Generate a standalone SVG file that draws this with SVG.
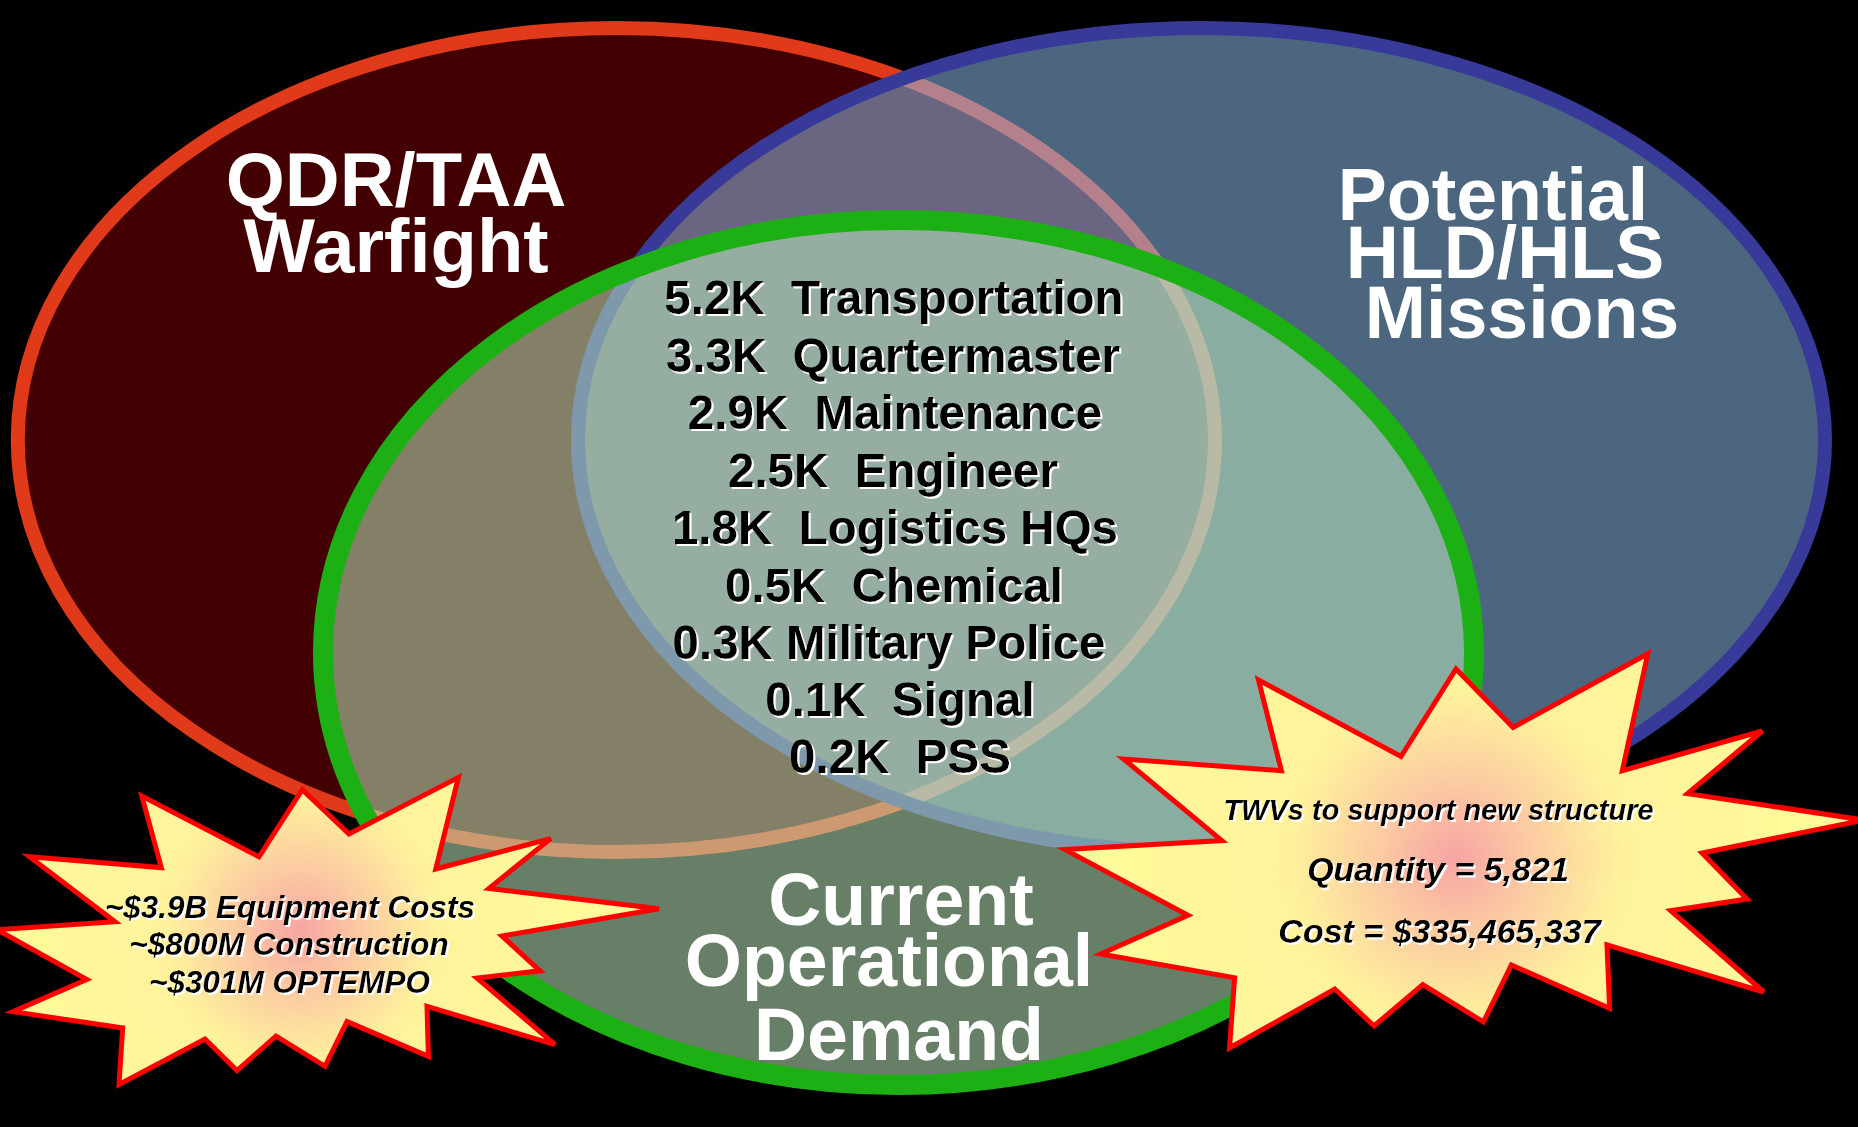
<svg xmlns="http://www.w3.org/2000/svg" width="1858" height="1127" viewBox="0 0 1858 1127">
<defs>
<style>
.title{font-family:"Liberation Sans",Arial,sans-serif;font-weight:bold;font-size:73.5px;fill:#ffffff;text-anchor:middle}
.big{font-size:76px}
.list{font-family:"Liberation Sans",Arial,sans-serif;font-weight:bold;font-size:47.5px;fill:#000000;text-anchor:middle}
.burst{font-family:"Liberation Sans",Arial,sans-serif;font-weight:bold;font-style:italic;fill:#000000;text-anchor:middle}
.star{stroke:#ff0000;stroke-width:5;stroke-linejoin:miter}
</style>
<filter id="shadow" x="-5%" y="-20%" width="110%" height="140%">
<feOffset in="SourceAlpha" dx="1.6" dy="1.6" result="off"/>
<feFlood flood-color="#ffffff" result="white"/>
<feComposite in="white" in2="off" operator="in" result="sh"/>
<feMerge><feMergeNode in="sh"/><feMergeNode in="SourceGraphic"/></feMerge>
</filter>
<radialGradient id="gradL" gradientUnits="userSpaceOnUse" cx="300" cy="930" r="270">
<stop offset="0" stop-color="#f7a4a3"/>
<stop offset="0.22" stop-color="#fbc9a2"/>
<stop offset="0.5" stop-color="#fff29c"/>
<stop offset="1" stop-color="#fffa9a"/>
</radialGradient>
<radialGradient id="gradR" gradientUnits="userSpaceOnUse" cx="1455" cy="858" r="330">
<stop offset="0" stop-color="#f7a4a3"/>
<stop offset="0.22" stop-color="#fbc9a2"/>
<stop offset="0.5" stop-color="#fff29c"/>
<stop offset="1" stop-color="#fffa9a"/>
</radialGradient>
</defs>
<rect x="0" y="0" width="1858" height="1127" fill="#000000"/>
<g id="node-qdr-taa">
<ellipse cx="616.4" cy="440" rx="598.6" ry="412" fill="#430003" stroke="#e03a1a" stroke-width="14"/>
<text class="title big" x="396" y="206">QDR/TAA</text>
<text class="title big" x="396" y="272">Warfight</text>
</g>
<g id="node-hld-hls">
<ellipse cx="1201.5" cy="440" rx="623.5" ry="412" fill="#8dbded" fill-opacity="0.54" stroke="#383a9a" stroke-width="14"/>
<text class="title" x="1493" y="220">Potential</text>
<text class="title" x="1505" y="278">HLD/HLS</text>
<text class="title" x="1522" y="338">Missions</text>
</g>
<g id="node-current">
<ellipse cx="898.5" cy="652.5" rx="575.5" ry="432.5" fill="#bdebbd" fill-opacity="0.54" stroke="#1db014" stroke-width="20"/>
<text class="title" x="901" y="925">Current</text>
<text class="title" x="889" y="986">Operational</text>
<text class="title" x="899" y="1060">Demand</text>
</g>
<g id="node-list" filter="url(#shadow)">
<text class="list" x="894" y="314" xml:space="preserve">5.2K  Transportation</text>
<text class="list" x="893" y="371.5" xml:space="preserve">3.3K  Quartermaster</text>
<text class="list" x="895" y="429" xml:space="preserve">2.9K  Maintenance</text>
<text class="list" x="893" y="486.5" xml:space="preserve">2.5K  Engineer</text>
<text class="list" x="895" y="544" xml:space="preserve">1.8K  Logistics HQs</text>
<text class="list" x="894" y="601.5" xml:space="preserve">0.5K  Chemical</text>
<text class="list" x="889" y="658.5" xml:space="preserve">0.3K Military Police</text>
<text class="list" x="900" y="716" xml:space="preserve">0.1K  Signal</text>
<text class="list" x="900" y="773" xml:space="preserve">0.2K  PSS</text>
</g>
<g id="node-costs">
<polygon class="star" fill="url(#gradL)" points="302.3,789.6 349,834 458.4,777.4 435.8,869 550.7,838.6 489,888.4 659,908.8 502,936 540,970.8 477,978 555,1044.6 427,1006.4 428.4,1056.3 347,1021.6 325,1066.3 276,1036 237,1070.6 205,1039 119,1084.5 122.7,1028 13,1011.6 86.7,979.5 -3,929.6 115,921.8 29.5,856.8 161.3,867.6 141.8,796 259,856.8"/>
<g filter="url(#shadow)">
<text class="burst" x="290" y="917.5" font-size="31.5">~$3.9B Equipment Costs</text>
<text class="burst" x="289" y="955" font-size="31.5">~$800M Construction</text>
<text class="burst" x="289.5" y="992.5" font-size="31.5">~$301M OPTEMPO</text>
</g>
</g>
<g id="node-twvs">
<polygon class="star" fill="url(#gradR)" points="1456,669 1513,727.5 1647.8,653.7 1622.3,770.7 1762.3,731 1687.5,793.6 1864,820 1702,853 1747,899 1670.7,910.7 1763.8,992 1607,944.8 1609.6,1008.4 1511.4,965 1483.4,1022 1422.8,984.5 1374,1026 1334.8,989 1229.5,1048 1234.6,977.8 1100.7,954 1188,915.3 1065,849.6 1221.8,840.5 1123.6,759 1281.4,770.7 1258.5,680 1401,756.5"/>
<g filter="url(#shadow)">
<text class="burst" x="1438.5" y="820" font-size="29">TWVs to support new structure</text>
<text class="burst" x="1438" y="881" font-size="34">Quantity = 5,821</text>
<text class="burst" x="1439.5" y="943" font-size="34">Cost = $335,465,337</text>
</g>
</g>
<g id="connectors"></g>
</svg>
